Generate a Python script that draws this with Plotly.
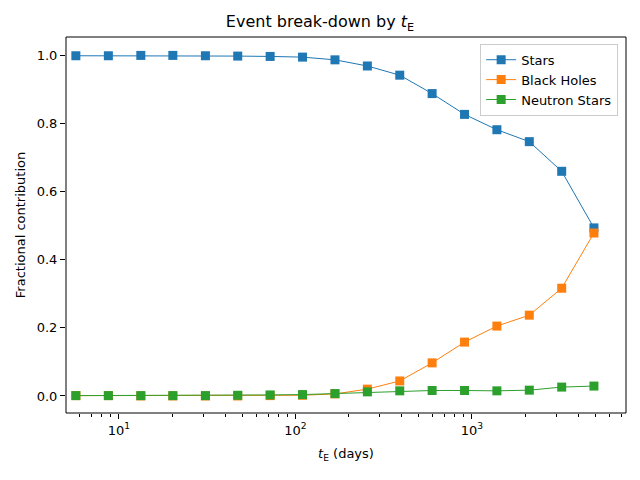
import plotly.graph_objects as go

# { data
t_E = [5.70, 8.71, 13.3, 20.2, 30.9, 47.1, 71.9, 109.7, 167.5, 255.6,
       390, 595, 908, 1385, 2114, 3226, 4913]
stars = [0.998, 0.998, 0.999, 0.999, 0.998, 0.997, 0.996, 0.994, 0.986, 0.968,
         0.941, 0.887, 0.826, 0.781, 0.746, 0.659, 0.493]
black_holes = [0.001, 0.001, 0.0, 0.0, 0.0, 0.0, 0.001, 0.002, 0.006, 0.020,
               0.044, 0.097, 0.158, 0.205, 0.237, 0.316, 0.478]
neutron_stars = [0.001, 0.001, 0.001, 0.001, 0.001, 0.002, 0.003, 0.004, 0.007, 0.012,
                 0.015, 0.016, 0.016, 0.015, 0.017, 0.026, 0.029]
x_ticks = [10, 100, 1000]
x_ticktext = ['10<sup>1</sup>', '10<sup>2</sup>', '10<sup>3</sup>']
x_minor = [6, 7, 8, 9, 20, 30, 40, 50, 60, 70, 80, 90,
           200, 300, 400, 500, 600, 700, 800, 900, 2000, 3000, 4000, 5000, 6000, 7000]
y_ticks = [0.0, 0.2, 0.4, 0.6, 0.8, 1.0]
# }

series = [('Stars', stars, '#1f77b4'),
          ('Black Holes', black_holes, '#ff7f0e'),
          ('Neutron Stars', neutron_stars, '#2ca02c')]

fig = go.Figure()
for name, vals, col in series:
    fig.add_trace(go.Scatter(x=t_E, y=vals, mode='lines+markers', name=name,
                             line=dict(color=col, width=1),
                             marker=dict(symbol='square', size=9, color=col,
                                         line=dict(width=0))))

axis_style = dict(showline=False, ticks='outside', ticklen=5, tickcolor='black',
                  showgrid=False, zeroline=False, automargin=False,
                  tickfont=dict(size=13, color='black'))

fig.update_xaxes(type='log', range=[0.70, 3.873], tickvals=x_ticks,
                 ticktext=x_ticktext,
                 minor=dict(tickvals=x_minor, ticks='outside', ticklen=3,
                            tickcolor='black', showgrid=False),
                 title=dict(text='<i>t</i><sub>E</sub> (days)', font=dict(size=13, color='black'),
                            standoff=12),
                 **axis_style)
fig.update_yaxes(range=[-0.05, 1.053], tickvals=y_ticks, tickformat='.1f',
                 title=dict(text='Fractional contribution', font=dict(size=13, color='black'),
                            standoff=8),
                 **axis_style)

# axes frame
fig.add_shape(type='rect', xref='x domain', yref='y domain', x0=0, x1=1, y0=0, y1=1,
              line=dict(color='black', width=1), layer='above')

fig.update_layout(
    width=640, height=480,
    margin=dict(l=66, r=14, t=37, b=67),
    paper_bgcolor='white', plot_bgcolor='white',
    font=dict(family='DejaVu Sans', color='black'),
    title=dict(text='Event break-down by <i>t</i><sub>E</sub>', x=0.5, xanchor='center',
               y=0.955, yanchor='middle', font=dict(size=16, color='black')),
    legend=dict(x=0.986, y=0.982, xanchor='right', yanchor='top',
                bordercolor='#cccccc', borderwidth=1, bgcolor='rgba(255,255,255,0.8)',
                font=dict(size=13, color='black')),
)

fig.write_html("out.html", config={'displayModeBar': False},
               post_script="document.body.style.margin='0';")
